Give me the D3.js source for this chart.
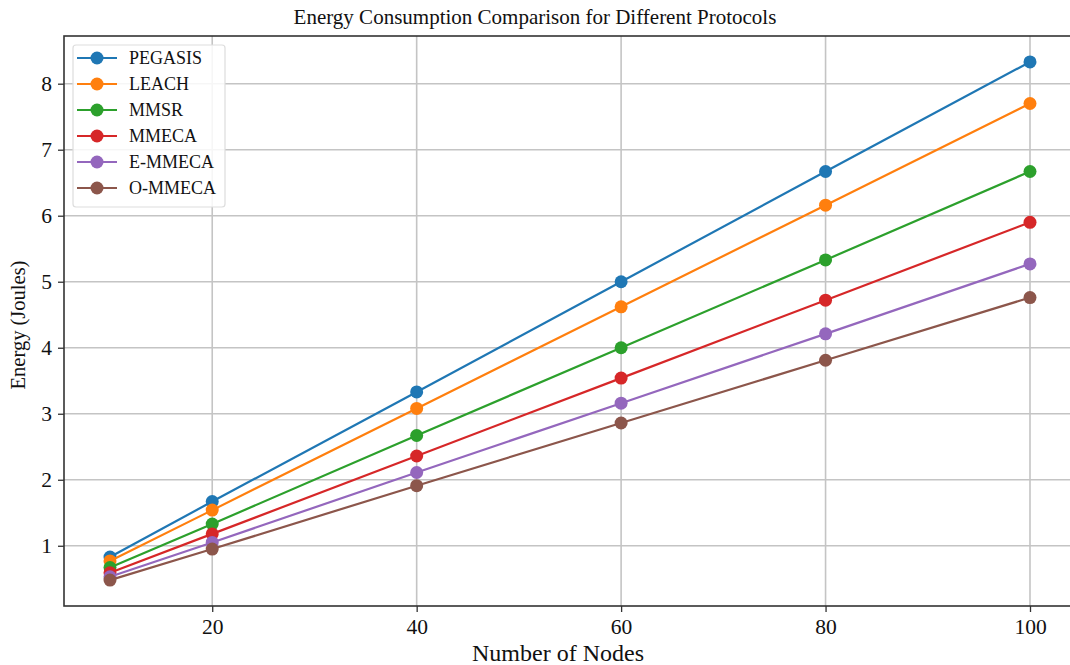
<!DOCTYPE html>
<html>
<head>
<meta charset="utf-8">
<script src="https://cdn.jsdelivr.net/npm/d3@7"></script>
<style>
  body { margin: 0; background: #fff; }
  text { font-family: "Liberation Serif", "DejaVu Serif", serif; fill: #111; }
</style>
</head>
<body>
<div id="chart"></div>
<script>
const nodes = [10, 20, 40, 60, 80, 100];
const protocols = ["PEGASIS", "LEACH", "MMSR", "MMECA", "E-MMECA", "O-MMECA"];
const pegasis = [0.83, 1.67, 3.33, 5.0, 6.67, 8.33];
const leach = [0.77, 1.54, 3.08, 4.62, 6.16, 7.7];
const mmsr = [0.67, 1.33, 2.67, 4.0, 5.33, 6.67];
const mmeca = [0.59, 1.18, 2.36, 3.54, 4.72, 5.9];
const emmeca = [0.53, 1.05, 2.11, 3.16, 4.21, 5.27];
const ommeca = [0.48, 0.95, 1.91, 2.86, 3.81, 4.76];
const xTicks = [20, 40, 60, 80, 100];
const yTicks = [1, 2, 3, 4, 5, 6, 7, 8];
const colors = ["#1f77b4", "#ff7f0e", "#2ca02c", "#d62728", "#9467bd", "#8c564b"];

const series = [pegasis, leach, mmsr, mmeca, emmeca, ommeca].map((vals, i) => ({
  name: protocols[i],
  color: colors[i],
  values: vals.map((v, j) => ({ x: nodes[j], y: v })),
}));

const width = 1070;
const height = 665;
const plotL = 64, plotR = 1076, plotT = 36, plotB = 606;

const svg = d3
  .select("#chart")
  .append("svg")
  .attr("width", width)
  .attr("height", height);

const allY = series.flatMap((s) => s.values.map((d) => d.y));
const yMin = d3.min(allY), yMax = d3.max(allY);
const yPad = (yMax - yMin) * 0.05;
const xPad = (d3.max(nodes) - d3.min(nodes)) * 0.05;

const xScale = d3
  .scaleLinear()
  .domain([d3.min(nodes) - xPad, d3.max(nodes) + xPad])
  .range([plotL, plotR]);

const yScale = d3
  .scaleLinear()
  .domain([yMin - yPad, yMax + yPad])
  .range([plotB, plotT]);

// grid
svg.append("g")
  .selectAll("line")
  .data(xTicks)
  .enter()
  .append("line")
  .attr("x1", (d) => xScale(d))
  .attr("x2", (d) => xScale(d))
  .attr("y1", plotT)
  .attr("y2", plotB)
  .attr("stroke", "#c4c4c4")
  .attr("stroke-width", 1.6);

svg.append("g")
  .selectAll("line")
  .data(yTicks)
  .enter()
  .append("line")
  .attr("x1", plotL)
  .attr("x2", plotR)
  .attr("y1", (d) => yScale(d))
  .attr("y2", (d) => yScale(d))
  .attr("stroke", "#c4c4c4")
  .attr("stroke-width", 1.6);

// axes
const xAxis = d3.axisBottom(xScale).tickValues(xTicks).tickSize(6).tickPadding(7);
const yAxis = d3.axisLeft(yScale).tickValues(yTicks).tickSize(6).tickPadding(6);

const gx = svg.append("g").attr("transform", `translate(0, ${plotB})`).call(xAxis);
const gy = svg.append("g").attr("transform", `translate(${plotL}, 0)`).call(yAxis);

[gx, gy].forEach((g) => {
  g.select(".domain").remove();
  g.selectAll(".tick line").attr("stroke", "#333").attr("stroke-width", 1.3);
  g.selectAll(".tick text")
    .style("font-family", '"Liberation Serif", serif')
    .style("font-size", "21.5px")
    .attr("fill", "#111");
});

// frame
svg.append("rect")
  .attr("x", plotL)
  .attr("y", plotT)
  .attr("width", plotR - plotL)
  .attr("height", plotB - plotT)
  .attr("fill", "none")
  .attr("stroke", "#333")
  .attr("stroke-width", 1.6);

// lines
const line = d3.line().x((d) => xScale(d.x)).y((d) => yScale(d.y));

series.forEach((s) => {
  svg.append("path")
    .datum(s.values)
    .attr("d", line)
    .attr("fill", "none")
    .attr("stroke", s.color)
    .attr("stroke-width", 2.2);
  svg.append("g")
    .selectAll("circle")
    .data(s.values)
    .enter()
    .append("circle")
    .attr("cx", (d) => xScale(d.x))
    .attr("cy", (d) => yScale(d.y))
    .attr("r", 6.5)
    .attr("fill", s.color);
});

// titles
svg.append("text")
  .attr("x", 535)
  .attr("y", 24)
  .attr("text-anchor", "middle")
  .style("font-size", "21px")
  .text("Energy Consumption Comparison for Different Protocols");

svg.append("text")
  .attr("x", 558)
  .attr("y", 661)
  .attr("text-anchor", "middle")
  .style("font-size", "24px")
  .text("Number of Nodes");

svg.append("text")
  .attr("transform", "translate(25, 325) rotate(-90)")
  .attr("text-anchor", "middle")
  .style("font-size", "20.5px")
  .text("Energy (Joules)");

// legend
const legend = svg.append("g");
legend.append("rect")
  .attr("x", 73)
  .attr("y", 45)
  .attr("width", 152)
  .attr("height", 162)
  .attr("rx", 3)
  .attr("fill", "#fff")
  .attr("fill-opacity", 0.85)
  .attr("stroke", "#ddd")
  .attr("stroke-width", 1.2);

const item = legend.selectAll("g.item")
  .data(series)
  .enter()
  .append("g")
  .attr("class", "item")
  .attr("transform", (d, i) => `translate(0, ${58 + i * 26})`);

item.append("line")
  .attr("x1", 77)
  .attr("x2", 117)
  .attr("stroke", (d) => d.color)
  .attr("stroke-width", 2.2);
item.append("circle")
  .attr("cx", 97)
  .attr("r", 6.5)
  .attr("fill", (d) => d.color);
item.append("text")
  .attr("x", 129)
  .attr("dy", "0.35em")
  .style("font-size", "18px")
  .text((d) => d.name);
</script>
</body>
</html>
